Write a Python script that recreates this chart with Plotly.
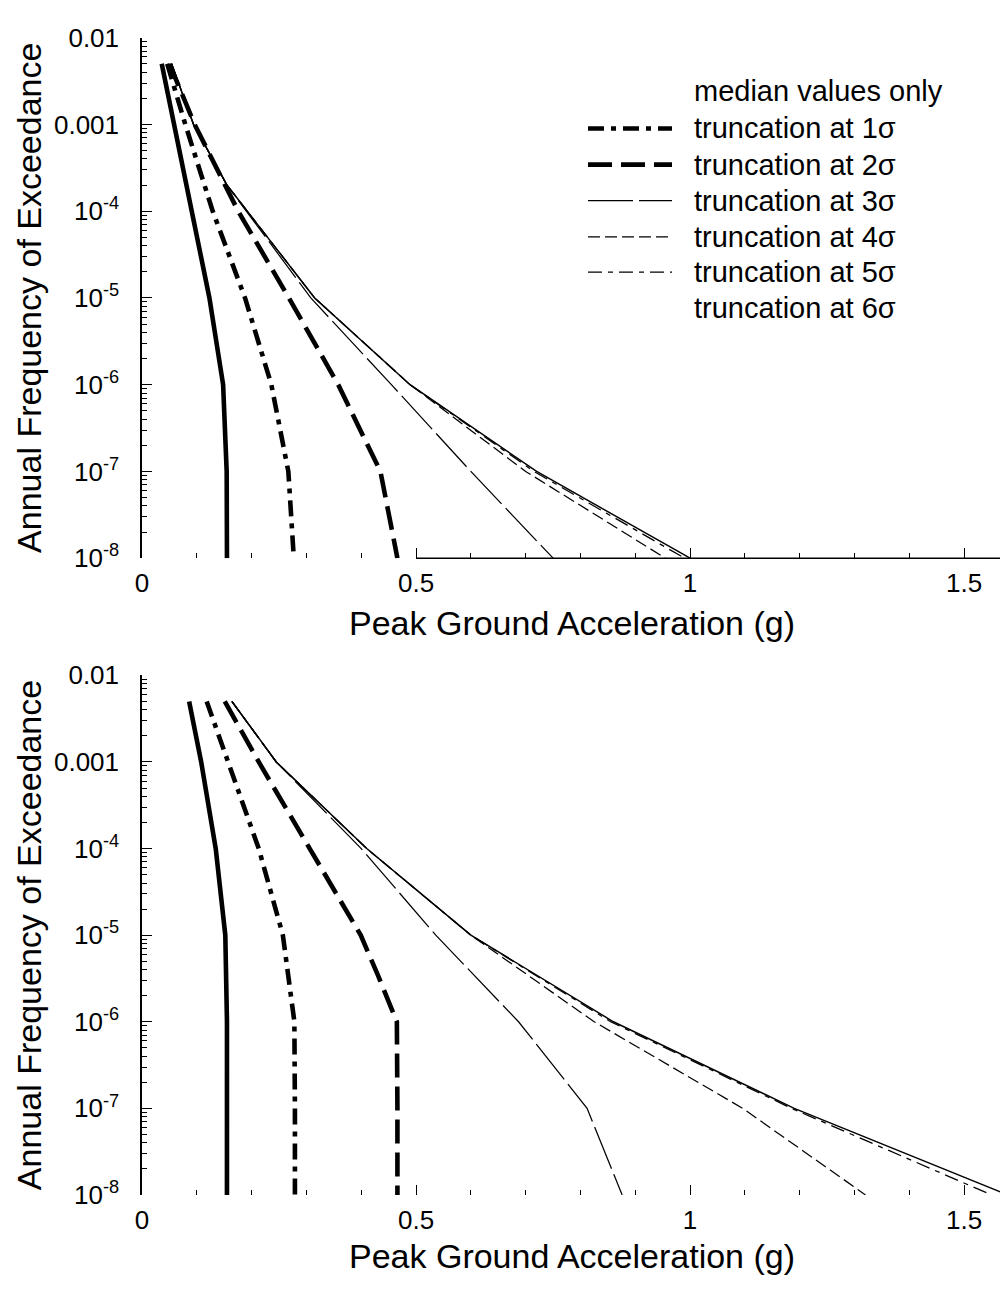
import plotly.graph_objects as go

# ---------------- data ----------------
DEC = [5e-3, 1e-3, 1e-4, 1e-5, 1e-6, 1e-7, 1e-8]

# Top panel
top_median_x = [0.036, 0.059, 0.091, 0.123, 0.148, 0.1545, 0.155]
top_median_y = DEC
top_s1_x = [0.046, 0.079, 0.129, 0.188, 0.236, 0.267, 0.277]
top_s1_y = DEC
top_s2_x = [0.050, 0.096, 0.1755, 0.268, 0.358, 0.435, 0.466]
top_s2_y = DEC
top_s3_x = [0.054, 0.094, 0.155, 0.308, 0.455, 0.600, 0.750]
top_s3_y = [5e-3, 1e-3, 2e-4, 1e-5, 1e-6, 1e-7, 1e-8]
top_s4_x = [0.054, 0.094, 0.155, 0.315, 0.489, 0.700, 0.955]
top_s4_y = [5e-3, 1e-3, 2e-4, 1e-5, 1e-6, 1e-7, 1e-8]
top_s5_x = [0.054, 0.094, 0.155, 0.315, 0.489, 0.715, 0.990]
top_s5_y = [5e-3, 1e-3, 2e-4, 1e-5, 1e-6, 1e-7, 1e-8]
top_s6_x = [0.054, 0.094, 0.155, 0.315, 0.489, 0.720, 1.000]
top_s6_y = [5e-3, 1e-3, 2e-4, 1e-5, 1e-6, 1e-7, 1e-8]

# Bottom panel
bot_median_x = [0.086, 0.108, 0.1345, 0.152, 0.155, 0.155, 0.155]
bot_median_y = DEC
bot_s1_x = [0.118, 0.158, 0.213, 0.257, 0.278, 0.279, 0.279]
bot_s1_y = DEC
bot_s2_x = [0.151, 0.213, 0.306, 0.399, 0.430, 0.449, 0.465, 0.466, 0.466]
bot_s2_y = [5e-3, 1e-3, 1e-4, 1e-5, 3.5e-6, 1.7e-6, 1e-6, 1e-7, 1e-8]
bot_s3_x = [0.164, 0.245, 0.400, 0.536, 0.687, 0.812, 0.876]
bot_s3_y = DEC
bot_s4_x = [0.164, 0.245, 0.410, 0.600, 0.825, 1.096, 1.320]
bot_s4_y = DEC
bot_s5_x = [0.164, 0.245, 0.410, 0.600, 0.855, 1.185, 1.550]
bot_s5_y = DEC
bot_s6_x = [0.164, 0.245, 0.410, 0.600, 0.860, 1.190, 1.580]
bot_s6_y = DEC

series_names = ["median values only", "truncation at 1σ", "truncation at 2σ",
                "truncation at 3σ", "truncation at 4σ", "truncation at 5σ",
                "truncation at 6σ"]

x_tickvals = [0, 0.5, 1, 1.5]
x_ticktext = ["0", "0.5", "1", "1.5"]
y_tickvals = [1e-2, 1e-3, 1e-4, 1e-5, 1e-6, 1e-7, 1e-8]
y_ticktext = ["0.01", "0.001", "10<sup>-4</sup>", "10<sup>-5</sup>",
              "10<sup>-6</sup>", "10<sup>-7</sup>", "10<sup>-8</sup>"]
y_minor = [k * 10.0 ** e for e in range(-8, -2) for k in range(2, 10)]
x_range = [0, 1.58]
top_baseline_start = 0.5   # the top panel's bottom axis line is drawn from 0.5 on

x_title = "Peak Ground Acceleration (g)"
y_title = "Annual Frequency of Exceedance"

# ---------------- styles ----------------
THICK = 4.6
THIN = 1.25
styles = [
    dict(width=THICK, dash="solid"),
    dict(width=THICK, dash="16px,7px,5px,7px"),
    dict(width=THICK, dash="24px,9px"),
    dict(width=THIN, dash="45px,6px"),
    dict(width=THIN, dash="12px,5px"),
    dict(width=THIN, dash="14px,6px,5px,6px"),
    dict(width=THIN + 0.2, dash="solid"),
]

FONT = "Liberation Sans, Arial, Helvetica, sans-serif"
OFF = 8            # page body margin of the html page
W, H = 1008 - OFF, 1291 - OFF
L = 142 - OFF

top_series = [(top_median_x, top_median_y), (top_s1_x, top_s1_y), (top_s2_x, top_s2_y),
              (top_s3_x, top_s3_y), (top_s4_x, top_s4_y), (top_s5_x, top_s5_y),
              (top_s6_x, top_s6_y)]
bot_series = [(bot_median_x, bot_median_y), (bot_s1_x, bot_s1_y), (bot_s2_x, bot_s2_y),
              (bot_s3_x, bot_s3_y), (bot_s4_x, bot_s4_y), (bot_s5_x, bot_s5_y),
              (bot_s6_x, bot_s6_y)]

fig = go.Figure()
for i, (xs, ys) in enumerate(top_series):
    fig.add_trace(go.Scatter(x=xs, y=ys, mode="lines", name=series_names[i],
                             line=dict(color="black", **styles[i]),
                             xaxis="x", yaxis="y", showlegend=False))
for i, (xs, ys) in enumerate(bot_series):
    fig.add_trace(go.Scatter(x=xs, y=ys, mode="lines", name=series_names[i],
                             line=dict(color="black", **styles[i]),
                             xaxis="x2", yaxis="y2", showlegend=False))

def py2paper(py):          # py: page pixel row
    return 1 - (py - OFF) / H

def px2paper(px):          # px: page pixel column
    return (px - OFF - L) / (W - L)

top_dom = [py2paper(556), py2paper(23)]
bot_dom = [py2paper(1208), py2paper(676)]

xaxis_common = dict(
    range=x_range, showgrid=False, zeroline=False, showline=False,
    ticks="inside", ticklen=10, tickwidth=1.2, tickcolor="black",
    tickvals=x_tickvals, ticktext=x_ticktext,
    minor=dict(ticks="inside", ticklen=5, tickwidth=1.2, tickcolor="black",
               dtick=0.1, tick0=0, showgrid=False),
    tickfont=dict(family=FONT, size=26, color="black"),
    ticklabelstandoff=7,
)
yaxis_common = dict(
    type="log", range=[-8, -2], showgrid=False, zeroline=False,
    showline=True, linecolor="black", linewidth=1.5,
    ticks="inside", ticklen=10, tickwidth=1.2, tickcolor="black",
    tickvals=y_tickvals, ticktext=y_ticktext,
    minor=dict(ticks="inside", ticklen=5, tickwidth=1.0, tickcolor="black",
               tickvals=y_minor, showgrid=False),
    tickfont=dict(family=FONT, size=26, color="black"),
    ticklabelstandoff=16,
)

fig.update_layout(
    width=W, height=H,
    margin=dict(l=L, r=0, t=0, b=0, pad=0),
    paper_bgcolor="white", plot_bgcolor="white",
    font=dict(family=FONT, color="black"),
    xaxis=dict(domain=[0, 1], anchor="y", **xaxis_common),
    yaxis=dict(domain=top_dom, anchor="x", **yaxis_common),
    xaxis2=dict(domain=[0, 1], anchor="y2", **xaxis_common),
    yaxis2=dict(domain=bot_dom, anchor="x2", **yaxis_common),
    showlegend=False,
)

annotations = []
# axis titles
for yc in [(23 + 556) / 2, (676 + 1208) / 2]:
    annotations.append(dict(text=y_title, xref="paper", yref="paper",
                            x=px2paper(29), y=py2paper(yc), textangle=-90,
                            showarrow=False, xanchor="center", yanchor="middle",
                            font=dict(family=FONT, size=34, color="black")))
for yc in [622, 1271]:
    annotations.append(dict(text=x_title, xref="paper", yref="paper",
                            x=px2paper(572), y=py2paper(yc),
                            showarrow=False, xanchor="center", yanchor="middle",
                            font=dict(family=FONT, size=34, color="black")))

# partial axis line along the bottom of the top panel
shapes = [dict(type="line", xref="x", yref="y domain",
               x0=top_baseline_start, x1=x_range[1], y0=0, y1=0,
               line=dict(color="black", width=1.6))]

# legend (text + key samples)
legend_rows = [78, 116, 153, 190, 227, 263, 300]
for i, name in enumerate(series_names):
    yy = py2paper(legend_rows[i])
    annotations.append(dict(text=name, xref="paper", yref="paper",
                            x=px2paper(692), y=yy, showarrow=False,
                            xanchor="left", yanchor="middle",
                            font=dict(family=FONT, size=29, color="black")))
    if i in (0, 6):
        continue
    shapes.append(dict(type="line", xref="paper", yref="paper",
                       x0=px2paper(588), x1=px2paper(672), y0=yy, y1=yy,
                       line=dict(color="black", width=styles[i]["width"],
                                 dash=styles[i]["dash"])))

fig.update_layout(annotations=annotations, shapes=shapes)
fig.write_html("out.html")
